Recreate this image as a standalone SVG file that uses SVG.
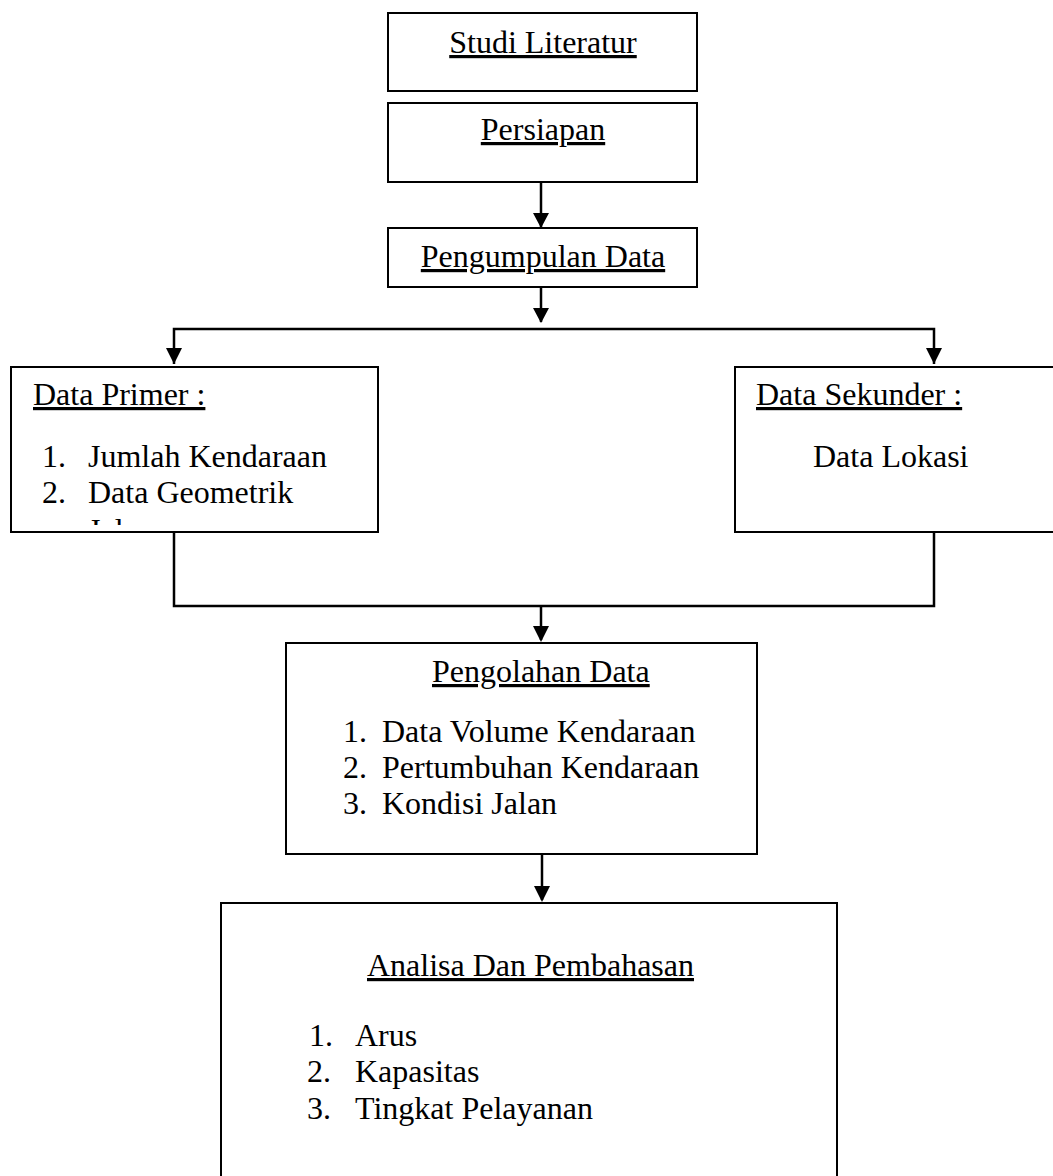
<svg xmlns="http://www.w3.org/2000/svg" width="1053" height="1176" viewBox="0 0 1053 1176">
<style>
.box{fill:#fff;stroke:#000;stroke-width:2}
.t{font-family:"Liberation Serif","Times New Roman",serif;font-size:32px;fill:#000}
.u{text-decoration:underline}
.c{text-anchor:middle}
.ln{fill:none;stroke:#000;stroke-width:2.5}
</style>
<defs>
<clipPath id="clipPrimer"><rect x="11" y="367" width="367" height="158"/></clipPath>
</defs>
<rect width="1053" height="1176" fill="#fff"/>
<g id="connectors">
<line class="ln" x1="541" y1="182" x2="541" y2="228"/>
<path d="M533,213 L549,213 L541,228 Z"/>
<line class="ln" x1="541" y1="287" x2="541" y2="322"/>
<path d="M533,308 L549,308 L541,323 Z"/>
<polyline class="ln" points="174,364 174,329 934,329 934,364"/>
<path d="M166,348 L182,348 L174,364 Z"/>
<path d="M926,348 L942,348 L934,364 Z"/>
<polyline class="ln" points="174,532 174,606 934,606 934,532"/>
<line class="ln" x1="541" y1="606" x2="541" y2="640"/>
<path d="M533,626 L549,626 L541,642 Z"/>
<line class="ln" x1="542" y1="854" x2="542" y2="900"/>
<path d="M534,886 L550,886 L542,902 Z"/>
</g>
<g id="studi-literatur">
<rect class="box" x="388" y="13" width="309" height="78"/>
<text class="t u c" x="543" y="53">Studi Literatur</text>
</g>
<g id="persiapan">
<rect class="box" x="388" y="103" width="309" height="79"/>
<text class="t u c" x="543" y="140">Persiapan</text>
</g>
<g id="pengumpulan-data">
<rect class="box" x="388" y="228" width="309" height="59"/>
<text class="t u c" x="543" y="267">Pengumpulan Data</text>
</g>
<g id="data-primer">
<rect class="box" x="11" y="367" width="367" height="165"/>
<text class="t u" x="33" y="405">Data Primer :</text>
<g clip-path="url(#clipPrimer)">
<text class="t" x="42" y="467">1.</text><text class="t" x="88" y="467">Jumlah Kendaraan</text>
<text class="t" x="42" y="503">2.</text><text class="t" x="88" y="503">Data Geometrik</text>
<text class="t" x="88" y="541">Jalan</text>
</g>
</g>
<g id="data-sekunder">
<rect class="box" x="735" y="367" width="330" height="165"/>
<text class="t u" x="756" y="405">Data Sekunder :</text>
<text class="t" x="813" y="467">Data Lokasi</text>
</g>
<g id="pengolahan-data">
<rect class="box" x="286" y="643" width="471" height="211"/>
<text class="t u" x="432" y="682">Pengolahan Data</text>
<text class="t" x="343" y="742">1.</text><text class="t" x="382" y="742">Data Volume Kendaraan</text>
<text class="t" x="343" y="778">2.</text><text class="t" x="382" y="778">Pertumbuhan Kendaraan</text>
<text class="t" x="343" y="814">3.</text><text class="t" x="382" y="814">Kondisi Jalan</text>
</g>
<g id="analisa-dan-pembahasan">
<rect class="box" x="221" y="903" width="616" height="300"/>
<text class="t u" x="367" y="976">Analisa Dan Pembahasan</text>
<text class="t" x="309" y="1046">1.</text><text class="t" x="355" y="1046">Arus</text>
<text class="t" x="307" y="1082">2.</text><text class="t" x="355" y="1082">Kapasitas</text>
<text class="t" x="307" y="1119">3.</text><text class="t" x="355" y="1119">Tingkat Pelayanan</text>
</g>
</svg>
